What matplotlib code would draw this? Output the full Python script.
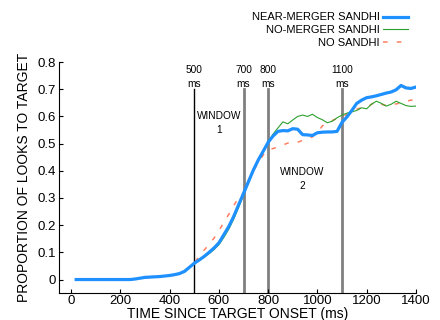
import matplotlib
matplotlib.use('Agg')
import matplotlib.pyplot as plt
import numpy as np

plt.rcParams['font.family'] = ['Liberation Sans', 'DejaVu Sans']

# time since target onset (ms), 20 ms bins
time_ms = np.arange(20, 1401, 20)

near_merger = [0, 0, 0, 0, 0, 0, 0, 0, 0, 0, 0, 0, 0.002,
               0.005, 0.008, 0.009, 0.010, 0.011, 0.013, 0.015, 0.018, 0.022, 0.030,
               0.045, 0.060, 0.072, 0.085, 0.100, 0.116, 0.135, 0.165, 0.195, 0.232,
               0.275, 0.317, 0.360, 0.403, 0.440, 0.472, 0.505, 0.528, 0.545, 0.548,
               0.547, 0.555, 0.553, 0.533, 0.532, 0.530, 0.540, 0.542, 0.543, 0.543,
               0.545, 0.578, 0.598, 0.622, 0.648, 0.660, 0.669, 0.672, 0.676, 0.681,
               0.686, 0.690, 0.698, 0.714, 0.705, 0.703, 0.708]

no_merger = [0, 0, 0, 0, 0, 0, 0, 0, 0, 0, 0, 0, 0.002,
             0.004, 0.007, 0.008, 0.010, 0.011, 0.012, 0.014, 0.017, 0.021, 0.028,
             0.042, 0.058, 0.070, 0.082, 0.095, 0.110, 0.128, 0.155, 0.185, 0.222,
             0.265, 0.310, 0.355, 0.400, 0.437, 0.470, 0.505, 0.535, 0.558, 0.580,
             0.573, 0.587, 0.600, 0.605, 0.600, 0.608, 0.596, 0.588, 0.577, 0.582,
             0.595, 0.605, 0.612, 0.617, 0.622, 0.632, 0.628, 0.645, 0.656, 0.648,
             0.638, 0.645, 0.656, 0.648, 0.640, 0.637, 0.638]

no_sandhi = [0, 0, 0, 0, 0, 0, 0, 0, 0, 0, 0, 0, 0.002,
             0.004, 0.006, 0.007, 0.008, 0.009, 0.011, 0.013, 0.016, 0.021, 0.030,
             0.045, 0.062, 0.085, 0.108, 0.130, 0.152, 0.180, 0.210, 0.240, 0.272,
             0.300, 0.320, 0.366, 0.400, 0.430, 0.458, 0.476, 0.482, 0.488, 0.495,
             0.502, 0.500, 0.505, 0.512, 0.517, 0.525, 0.540, 0.565, 0.576, 0.585,
             0.592, 0.600, 0.607, 0.620, 0.627, 0.632, 0.633, 0.645, 0.655, 0.645,
             0.640, 0.645, 0.646, 0.650, 0.655, 0.660, 0.662]

marks = [500, 700, 800, 1100]
mark_colors = ['black', 'gray', 'gray', 'gray']
mark_widths = [1.0, 2.0, 2.0, 2.0]

fig = plt.figure(figsize=(4.4, 3.2), dpi=100)
ax = fig.add_axes([0.134, 0.084, 0.811, 0.722])

for m, c, w in zip(marks, mark_colors, mark_widths):
    ax.plot([m, m], [-0.05, 0.70], color=c, lw=w, zorder=1)
    ax.text(m, 0.77, str(m), ha='center', va='center', fontsize=7.3)
    ax.text(m, 0.72, 'ms', ha='center', va='center', fontsize=7.3)

ax.text(600, 0.575, 'WINDOW\n1', ha='center', va='center', fontsize=7.3, linespacing=1.5)
ax.text(940, 0.37, 'WINDOW\n2', ha='center', va='center', fontsize=7.3, linespacing=1.5)

ax.plot(time_ms, near_merger, color='#1E90FF', lw=2.3, label='NEAR-MERGER SANDHI', zorder=4)
ax.plot(time_ms, no_merger, color='#2CA02C', lw=0.8, label='NO-MERGER SANDHI', zorder=3)
ax.plot(time_ms, no_sandhi, color='#FF7F60', lw=1.1, dashes=(3, 6), label='NO SANDHI', zorder=2)

ax.set_xlim(-50, 1400)
ax.set_ylim(-0.05, 0.8)
ax.set_xticks(range(0, 1401, 200))
ax.set_yticks([0, 0.1, 0.2, 0.3, 0.4, 0.5, 0.6, 0.7, 0.8])
ax.set_yticklabels(['0', '0.1', '0.2', '0.3', '0.4', '0.5', '0.6', '0.7', '0.8'])
ax.tick_params(labelsize=9.5, length=3, width=0.8, direction='in', pad=2)
ax.tick_params(axis='x', pad=1)
ax.spines['top'].set_visible(False)
ax.spines['right'].set_visible(False)

ax.set_xlabel('TIME SINCE TARGET ONSET (ms)', fontsize=10)
ax.xaxis.set_label_coords(0.5, -0.058)
ax.set_ylabel('PROPORTION OF LOOKS TO TARGET', fontsize=10)
ax.yaxis.set_label_coords(-0.078, 0.5)

fig.legend(loc='upper right', bbox_to_anchor=(0.937, 0.975), frameon=False,
           markerfirst=False, fontsize=8, handlelength=2.2, labelspacing=0.25,
           handletextpad=0.35, borderaxespad=0)

fig.savefig('out.png', dpi=100)
